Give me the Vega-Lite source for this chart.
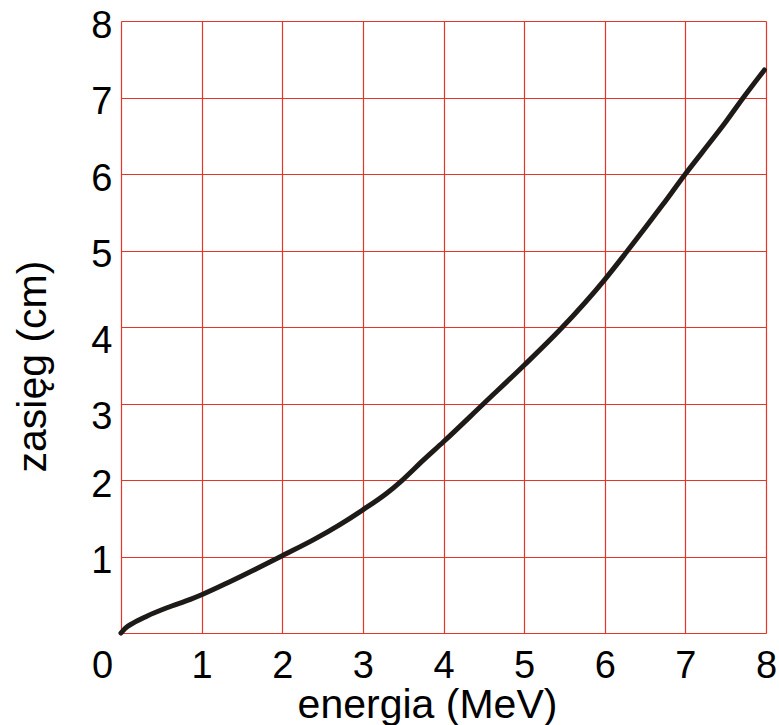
{
  "$schema": "https://vega.github.io/schema/vega-lite/v6.json",
  "width": 645,
  "height": 612,
  "autosize": {"type": "none"},
  "padding": {"left": 121, "top": 21, "right": 13, "bottom": 92},
  "background": "white",
  "config": {
    "view": {"stroke": null},
    "font": "Liberation Sans"
  },
  "data": {
    "values": [
      {"energia": 0.0, "zasieg": 0.0},
      {"energia": 0.05, "zasieg": 0.06},
      {"energia": 0.15, "zasieg": 0.13},
      {"energia": 0.32, "zasieg": 0.22},
      {"energia": 0.57, "zasieg": 0.33},
      {"energia": 0.86, "zasieg": 0.44},
      {"energia": 1.0, "zasieg": 0.5},
      {"energia": 1.35, "zasieg": 0.67},
      {"energia": 1.68, "zasieg": 0.84},
      {"energia": 2.0, "zasieg": 1.01},
      {"energia": 2.39, "zasieg": 1.22},
      {"energia": 2.72, "zasieg": 1.42},
      {"energia": 3.0, "zasieg": 1.61},
      {"energia": 3.3, "zasieg": 1.83},
      {"energia": 3.48, "zasieg": 1.99},
      {"energia": 3.75, "zasieg": 2.26},
      {"energia": 4.0, "zasieg": 2.5},
      {"energia": 4.5, "zasieg": 3.0},
      {"energia": 5.0, "zasieg": 3.5},
      {"energia": 5.45, "zasieg": 3.97},
      {"energia": 6.0, "zasieg": 4.62},
      {"energia": 6.27, "zasieg": 4.98},
      {"energia": 6.72, "zasieg": 5.6},
      {"energia": 7.0, "zasieg": 6.0},
      {"energia": 7.34, "zasieg": 6.46},
      {"energia": 7.5, "zasieg": 6.68},
      {"energia": 7.72, "zasieg": 7.0},
      {"energia": 7.98, "zasieg": 7.36}
    ]
  },
  "mark": {"type": "line", "color": "#1e1a18", "strokeWidth": 5, "strokeCap": "round", "interpolate": "monotone"},
  "encoding": {
    "x": {
      "field": "energia",
      "type": "quantitative",
      "scale": {"domain": [0, 8], "nice": false, "zero": false},
      "axis": {
        "values": [0, 1, 2, 3, 4, 5, 6, 7, 8],
        "title": "energia (MeV)",
        "titleFont": "Liberation Sans",
        "titleFontSize": 41,
        "titleFontWeight": "normal",
        "titleColor": "black",
        "titleX": 306,
        "titleY": 84,
        "titleAlign": "center",
        "titleBaseline": "alphabetic",
        "domain": false,
        "ticks": false,
        "tickSize": 0,
        "grid": true,
        "gridColor": "#e3362b",
        "gridWidth": 1.2,
        "gridOpacity": 1,
        "labelFont": "Liberation Sans",
        "labelFontSize": 38,
        "labelColor": "black",
        "labelBaseline": "alphabetic",
        "labelPadding": 44,
        "labelFlush": false,
        "labelOverlap": false,
        "labelOffset": {"condition": {"test": "datum.value === 0", "value": -19}, "value": 0}
      }
    },
    "y": {
      "field": "zasieg",
      "type": "quantitative",
      "scale": {"domain": [0, 8], "nice": false, "zero": false},
      "axis": {
        "values": [0, 1, 2, 3, 4, 5, 6, 7, 8],
        "labelExpr": "datum.value === 0 ? '' : datum.label",
        "title": "zasięg (cm)",
        "titleFont": "Liberation Sans",
        "titleFontSize": 41,
        "titleFontWeight": "normal",
        "titleColor": "black",
        "titleAngle": 270,
        "titleX": -76,
        "titleY": 345,
        "titleAlign": "center",
        "titleBaseline": "alphabetic",
        "domain": false,
        "ticks": false,
        "tickSize": 0,
        "grid": true,
        "gridColor": "#e3362b",
        "gridWidth": 1.2,
        "gridOpacity": 1,
        "labelFont": "Liberation Sans",
        "labelFontSize": 38,
        "labelColor": "black",
        "labelAlign": "right",
        "labelBaseline": "alphabetic",
        "labelPadding": 9,
        "labelFlush": false,
        "labelOverlap": false,
        "labelOffset": {"condition": {"test": "datum.value === 3 || datum.value === 4", "value": 25}, "value": 16}
      }
    }
  }
}
